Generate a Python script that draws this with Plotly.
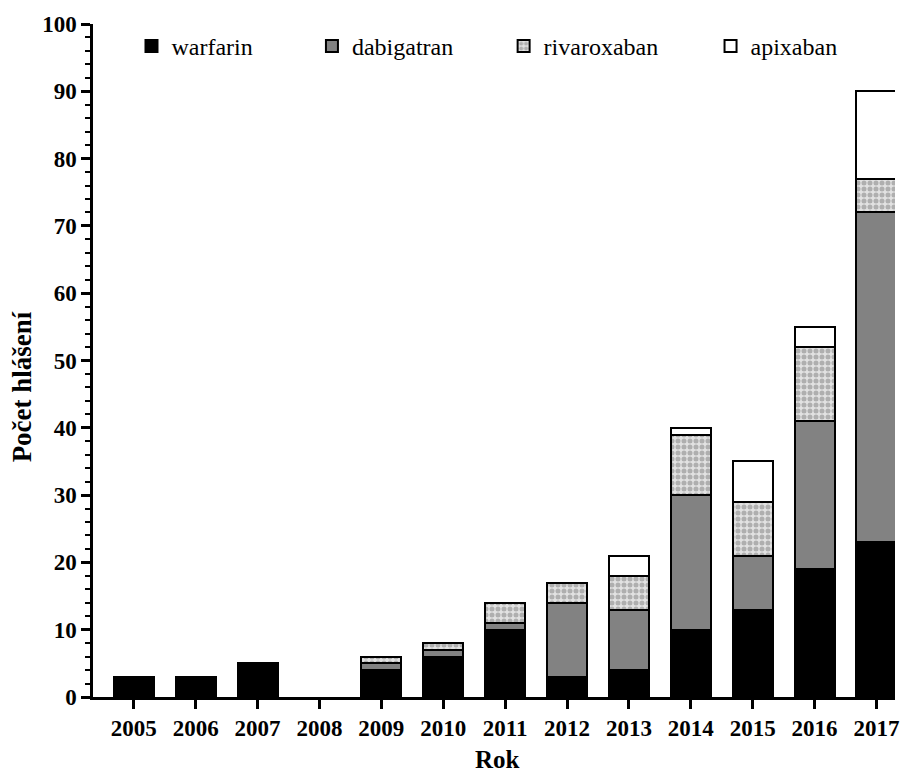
import plotly.graph_objects as go

years = ["2005", "2006", "2007", "2008", "2009", "2010", "2011",
         "2012", "2013", "2014", "2015", "2016", "2017"]
warfarin = [3, 3, 5, 0, 4, 6, 10, 3, 4, 10, 13, 19, 23]
dabigatran = [0, 0, 0, 0, 1, 1, 1, 11, 9, 20, 8, 22, 49]
rivaroxaban = [0, 0, 0, 0, 1, 1, 3, 3, 5, 9, 8, 11, 5]
apixaban = [0, 0, 0, 0, 0, 0, 0, 0, 3, 1, 6, 3, 13]

FONT = "Liberation Serif"
outline = dict(color="black", width=2)


def nonzero(vals):
    # empty segments are skipped so they don't draw a flat outline
    return [v if v else None for v in vals]


series = [
    ("warfarin", warfarin, dict(color="black", line=outline), "legend"),
    ("dabigatran", dabigatran, dict(color="#828282", line=outline), "legend2"),
    ("rivaroxaban", rivaroxaban,
     dict(color="#dcdcdc", line=outline,
          pattern=dict(shape=".", fgcolor="#7c7c7c", bgcolor="#e2e2e2",
                       size=6, solidity=0.55)), "legend3"),
    ("apixaban", apixaban, dict(color="white", line=outline), "legend4"),
]

fig = go.Figure()
for name, vals, marker, lg in series:
    fig.add_trace(go.Bar(x=years, y=nonzero(vals), name=name, marker=marker,
                         width=0.645, legend=lg))

legend_x = [0.048, 0.273, 0.512, 0.770]
leg_common = dict(y=1.0, yanchor="top", xanchor="left", bgcolor="rgba(0,0,0,0)",
                  font=dict(family=FONT, size=24, color="black"))
fig.update_layout(
    barmode="stack",
    width=911, height=778,
    margin=dict(l=93, r=13, t=24, b=81),
    plot_bgcolor="white", paper_bgcolor="white",
    showlegend=True,
    legend=dict(x=legend_x[0], **leg_common),
    legend2=dict(x=legend_x[1], **leg_common),
    legend3=dict(x=legend_x[2], **leg_common),
    legend4=dict(x=legend_x[3], **leg_common),
    font=dict(family=FONT, color="black"),
)

# axis titles
fig.add_annotation(text="<b>Rok</b>", xref="paper", yref="paper",
                   x=0.504, y=-0.0935, xanchor="center", yanchor="middle",
                   showarrow=False, font=dict(family=FONT, size=25, color="black"))
fig.add_annotation(text="<b>Počet hlášení</b>", xref="paper", yref="paper",
                   x=-0.089, y=0.461, xanchor="center", yanchor="middle",
                   textangle=-90, showarrow=False,
                   font=dict(family=FONT, size=27, color="black"))

fig.update_xaxes(
    type="category", range=[-0.66, 12.30],
    showline=True, linecolor="black", linewidth=2.5,
    ticks="outside", ticklen=9, tickwidth=2.5, tickcolor="black",
    tickfont=dict(family=FONT, size=23, color="black", weight="bold"),
    showgrid=False,
)
fig.update_yaxes(
    range=[0, 100], dtick=10,
    showline=True, linecolor="black", linewidth=2.5,
    ticks="outside", ticklen=9, tickwidth=2.5, tickcolor="black",
    minor=dict(dtick=2, ticks="outside", ticklen=5, tickwidth=2, tickcolor="black"),
    tickfont=dict(family=FONT, size=23, color="black", weight="bold"),
    showgrid=False, zeroline=False,
)

fig.write_html("out.html")
